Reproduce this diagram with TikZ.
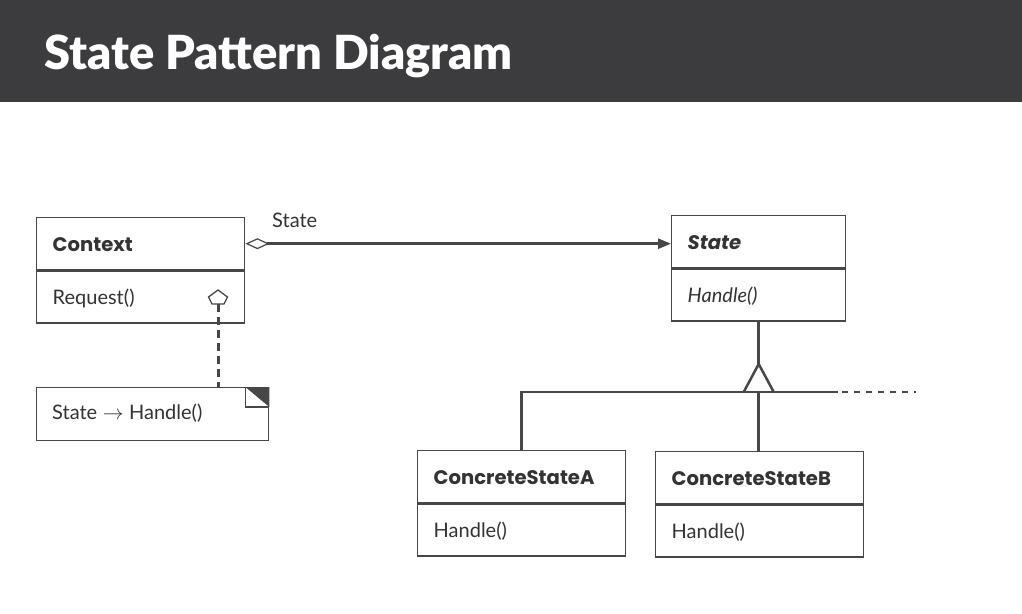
\documentclass[tikz,border=0pt]{standalone}
\usepackage{fontspec}
\setmainfont{Lato}
\newfontfamily\boldfam{Poppins}
\newfontfamily\titlefam{Lato Black}
\newcommand{\hd}[1]{{\boldfam\bfseries\fontsize{19.6}{22}\selectfont #1}}
\usetikzlibrary{arrows.meta,shapes.geometric,calc}
\definecolor{barcol}{HTML}{3C3C3F}
\definecolor{ink}{HTML}{474747}
\definecolor{txt}{HTML}{333333}
\begin{document}
\begin{tikzpicture}[x=1pt,y=-1pt,
  box/.style={draw=ink,line width=1.4pt,anchor=north west,inner xsep=16pt,inner ysep=0pt,
    minimum height=52pt,align=left,text height=15pt,text depth=0pt,
    font=\fontsize{20}{22}\selectfont,text=txt},
  lbl/.style={font=\fontsize{20}{22}\selectfont,text=txt,inner sep=0pt},
  conn/.style={draw=ink,line width=2.5pt}]
\fill[white] (0,0) rectangle (1022,613);
\useasboundingbox (0,0) rectangle (1022,613);
\fill[barcol] (0,0) rectangle (1022,102);
\node[anchor=base west,inner sep=0pt,text=white,font=\titlefam\fontsize{47}{50}\selectfont] (title) at (44,69) {State Pattern Diagram};
% Context
\node[box,text width=176pt] (ctx) at (36,217) {\hd{Context}};
\node[box,text width=176pt] (ctxm) at (ctx.south west) {Request()};
% State
\node[box,text width=142pt] (st) at (671,215) {\hd{\itshape State}};
\node[box,text width=142pt] (stm) at (st.south west) {\itshape Handle()};
% Concrete states
\node[box,text width=176pt] (csa) at (417,450) {\hd{ConcreteStateA}};
\node[box,text width=176pt] (csam) at (csa.south west) {Handle()};
\node[box,text width=176pt] (csb) at (655,451) {\hd{ConcreteStateB}};
\node[box,text width=176pt] (csbm) at (csb.south west) {Handle()};
% Note
\node[draw=ink,line width=1.4pt,anchor=north west,minimum width=232pt,minimum height=53pt,inner sep=0pt] (note) at (36,387) {};
\node[lbl,anchor=base west] (notetxt) at (52,419) {State\;$\rightarrow$\;Handle()};
\fill[ink] (note.north east) -- ++(-24,0) -- ++(24,20) -- cycle;
\draw[ink,line width=1.2pt] (note.north east) ++(-24,0) -- ++(0,20) -- ++(24,0);
% pentagon and dashed line
\coordinate (pent) at (218,304);
\draw[ink,line width=1.3pt,line join=miter] (pent) ++(-6,0) -- ++(12,0) -- ++(3.5,-7) -- ++(-9.5,-7) -- ++(-9.5,7) -- cycle;
\draw[conn,line width=3pt,dash pattern=on 8pt off 5pt] (pent) -- (pent |- note.north);
% association
\draw[conn,{Diamond[open,length=24pt,width=11pt,line width=1.2pt]}-{Triangle[length=13pt,width=10pt]}] (ctx.east) -- (ctx.east -| st.west);
\node[lbl,anchor=base west] (assoc) at (272,227) {State};
% inheritance
\coordinate (apex) at (stm.south |- 0,364);
\coordinate (tribase) at (stm.south |- 0,392);
\draw[conn] (stm.south) -- (apex);
\draw[conn,line join=miter] ($(tribase)+(-15,0)$) -- (apex) -- ($(tribase)+(15,0)$);
\coordinate (hright) at (838,392);
\coordinate (hdash) at (916,392);
\draw[conn] (csa.north) |- (hright);
\draw[conn,dash pattern=on 6pt off 6pt] ($(hright)+(4,0)$) -- (hdash);
\draw[conn] (tribase) -- (tribase |- csb.north);
\end{tikzpicture}
\end{document}
